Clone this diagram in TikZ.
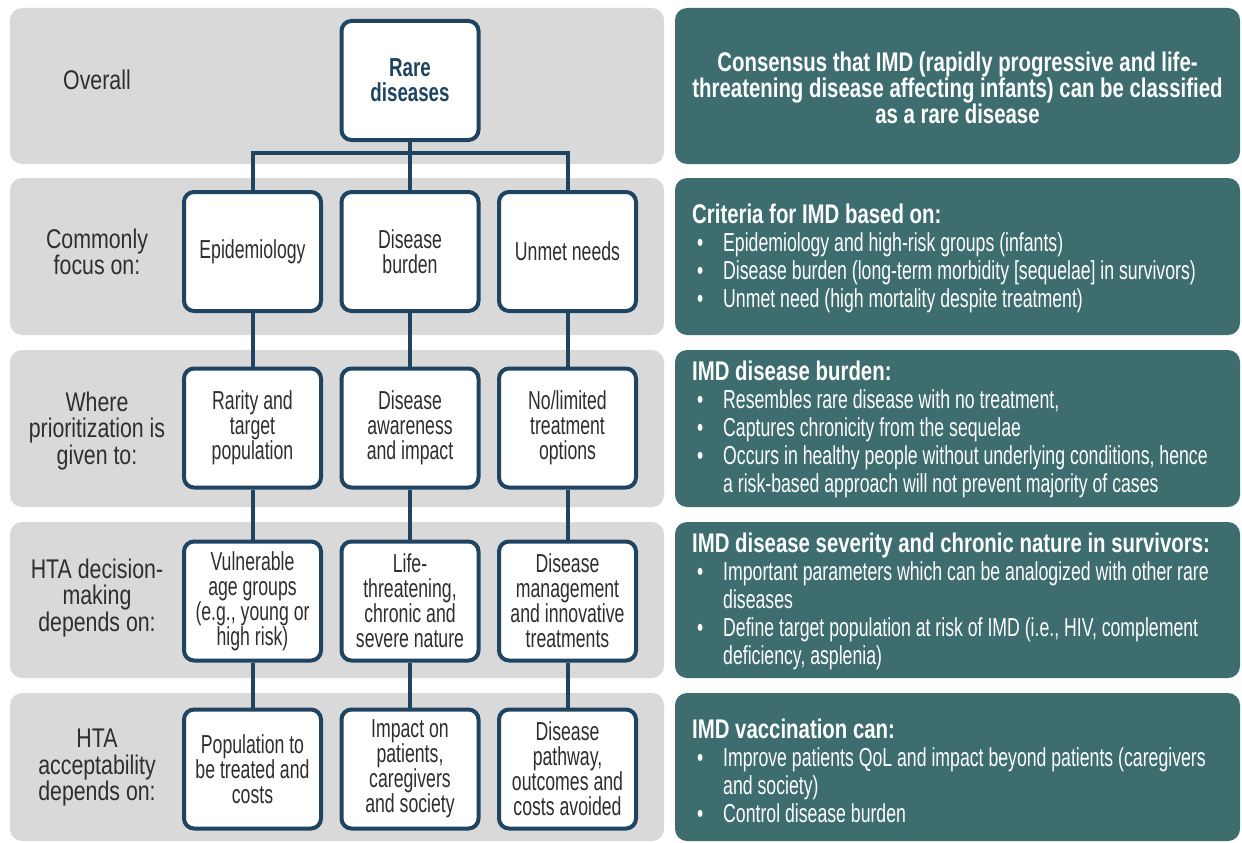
\documentclass[tikz,border=0pt]{standalone}
\usepackage{fontspec}
\setmainfont{Liberation Sans}[FakeStretch=0.68]
\newfontfamily\condbold{Liberation Sans}[FakeStretch=0.755]
\newfontfamily\rarebold{Liberation Sans}[FakeStretch=0.72]
\newfontfamily\labfont{Liberation Sans}[FakeStretch=0.79]
\definecolor{bandgrey}{HTML}{D9D9D9}
\definecolor{tealpanel}{HTML}{3E6D70}
\definecolor{navy}{HTML}{1F4461}
\definecolor{textdark}{HTML}{2E2E2E}
\newcommand\pbul{\hspace*{5pt}\makebox[26pt][l]{\textbullet}}
\newcommand\pind{\hspace*{31pt}}
\newcommand\phead[1]{{\condbold\bfseries\fontsize{27}{28}\selectfont #1}}
\begin{document}
\begin{tikzpicture}[x=1pt,y=-1pt,
  band/.style={fill=bandgrey, rounded corners=12pt},
  panel/.style={fill=tealpanel, rounded corners=12pt},
  boxnode/.style={draw=navy, line width=4pt, fill=white, rounded corners=10pt,
    minimum width=137pt, minimum height=119pt, align=center, text=textdark,
    inner sep=0pt, font=\fontsize{26}{25}\selectfont},
  rarenode/.style={boxnode, text=navy, font=\rarebold\bfseries\fontsize{26}{25}\selectfont},
  rowlabel/.style={align=center, text=textdark, inner sep=0pt, font=\labfont\fontsize{27}{26.5}\selectfont},
  paneltext/.style={align=left, text=white, inner sep=0pt, anchor=west, font=\fontsize{26}{28}\selectfont},
  conn/.style={draw=navy, line width=4pt}
]
\useasboundingbox (0,0) rectangle (1242,843);
% bands
\path[band] (10,8) rectangle (664,164);
\path[band] (10,178) rectangle (664,335);
\path[band] (10,350) rectangle (664,507);
\path[band] (10,522) rectangle (664,678);
\path[band] (10,693) rectangle (664,841);
% panels
\path[panel] (675,8) rectangle (1240,164);
\path[panel] (675,178) rectangle (1240,335);
\path[panel] (675,350) rectangle (1240,507);
\path[panel] (675,522) rectangle (1240,678);
\path[panel] (675,693) rectangle (1240,841);
% row labels
\node[rowlabel] (l1) at (97,80) {Overall};
\node[rowlabel] (l2) at (97,252) {Commonly\\focus on:};
\node[rowlabel] (l3) at (97,431) {Where\\prioritization is\\given to:};
\node[rowlabel] (l4) at (97,598) {HTA decision-\\making\\depends on:};
\node[rowlabel] (l5) at (97,768) {HTA\\acceptability\\depends on:};
% boxes
\node[rarenode] (rare) at (410,80.5) {Rare\\diseases};
\node[boxnode] (b21) at (252.5,251.5) {Epidemiology};
\node[boxnode] (b22) at (410,251.5) {Disease\\burden};
\node[boxnode] (b23) at (567.5,251.5) {Unmet needs};
\node[boxnode] (b31) at (252.5,428) {Rarity and\\target\\population};
\node[boxnode] (b32) at (410,428) {Disease\\awareness\\and impact};
\node[boxnode] (b33) at (567.5,428) {No/limited\\treatment\\options};
\node[boxnode] (b41) at (252.5,601) {Vulnerable\\age groups\\(e.g., young or\\high risk)};
\node[boxnode] (b42) at (410,601) {Life-\\threatening,\\chronic and\\severe nature};
\node[boxnode] (b43) at (567.5,601) {Disease\\management\\and innovative\\treatments};
\node[boxnode] (b51) at (252.5,769) {Population to\\be treated and\\costs};
\node[boxnode] (b52) at (410,769) {Impact on\\patients,\\caregivers\\and society};
\node[boxnode] (b53) at (567.5,769) {Disease\\pathway,\\outcomes and\\costs avoided};
% connectors
\draw[conn] (rare.south) -- (b22.north);
\draw[conn] (b21.north) -- ++(0,-37) -| (b23.north);
\foreach \c in {1,2,3}{
  \draw[conn] (b2\c.south) -- (b3\c.north);
  \draw[conn] (b3\c.south) -- (b4\c.north);
  \draw[conn] (b4\c.south) -- (b5\c.north);
}
% panel texts
\node[align=center, text=white, inner sep=0pt, font=\condbold\bfseries\fontsize{27}{25}\selectfont] (p1) at (957.5,88)
  {Consensus that IMD (rapidly progressive and life-\\threatening disease affecting infants) can be classified\\as a rare disease};
\node[paneltext] (p2) at (692,258) {\phead{Criteria for IMD based on:}\\
\pbul Epidemiology and high-risk groups (infants)\\
\pbul Disease burden (long-term morbidity [sequelae] in survivors)\\
\pbul Unmet need (high mortality despite treatment)};
\node[paneltext] (p3) at (692,429) {\phead{IMD disease burden:}\\
\pbul Resembles rare disease with no treatment,\\
\pbul Captures chronicity from the sequelae\\
\pbul Occurs in healthy people without underlying conditions, hence\\
\pind a risk-based approach will not prevent majority of cases};
\node[paneltext] (p4) at (692,601) {\phead{IMD disease severity and chronic nature in survivors:}\\
\pbul Important parameters which can be analogized with other rare\\
\pind diseases\\
\pbul Define target population at risk of IMD (i.e., HIV, complement\\
\pind deficiency, asplenia)};
\node[paneltext] (p5) at (692,771) {\phead{IMD vaccination can:}\\
\pbul Improve patients QoL and impact beyond patients (caregivers\\
\pind and society)\\
\pbul Control disease burden};
\end{tikzpicture}
\end{document}
